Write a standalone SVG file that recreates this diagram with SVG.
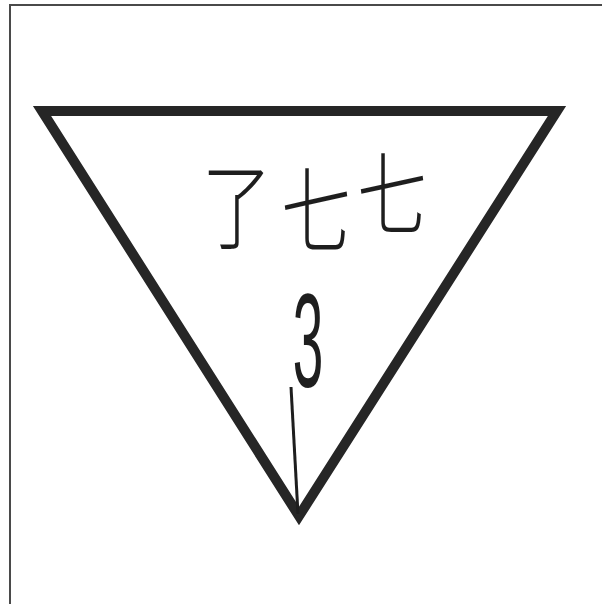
<svg xmlns="http://www.w3.org/2000/svg" width="602" height="604" viewBox="0 0 602 604">
<style>
.hw{font-family:"Noto Sans CJK JP","Noto Sans CJK SC",sans-serif;font-weight:200;fill:#1e1e1e;text-anchor:middle}
.num{font-family:"Liberation Sans",Arial,sans-serif;fill:#1e1e1e;text-anchor:middle}
</style>
<rect x="0" y="0" width="602" height="604" fill="#ffffff"/>
<rect id="frame" x="10" y="5" width="600" height="605" fill="none" stroke="#4a4a4a" stroke-width="2"/>
<g id="triangle">
<polygon points="42,111 557,111 299,516" fill="none" stroke="#262626" stroke-width="10" stroke-linejoin="miter" stroke-miterlimit="10"/>
</g>
<g id="label">
<text class="hw" transform="translate(237,242) scale(1,1.35)" font-size="70">了</text>
<text class="hw" transform="translate(316,246) scale(1,1.35)" font-size="70">七</text>
<text class="hw" transform="translate(392,228) scale(1,1.3)" font-size="70">七</text>
<text class="num" transform="translate(308,387) scale(0.55,1.33)" font-size="100">3</text>
</g>
<g id="connectors">
<line x1="291" y1="387" x2="298" y2="514" stroke="#1e1e1e" stroke-width="3"/>
</g>
</svg>
